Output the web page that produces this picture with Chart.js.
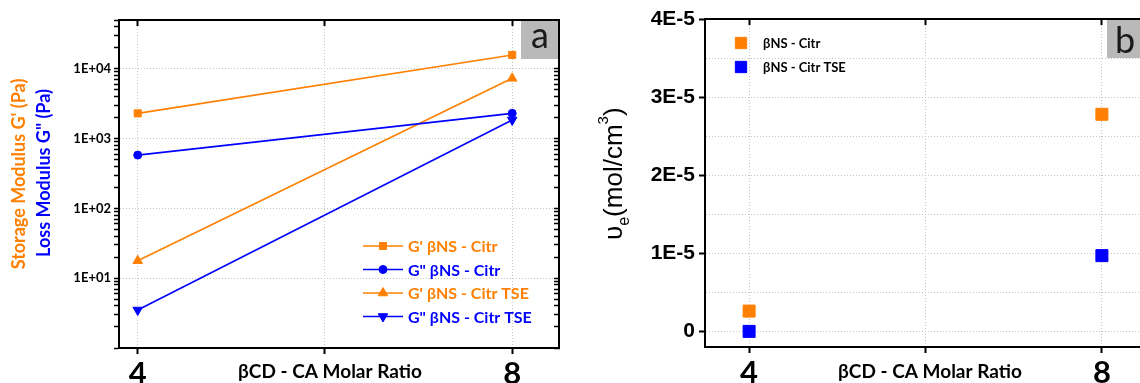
<!DOCTYPE html>
<html>
<head>
<meta charset="utf-8">
<script src="https://cdn.jsdelivr.net/npm/chart.js@4.4.1/dist/chart.umd.min.js"></script>
<style>
  html, body { margin: 0; padding: 0; background: #fff; overflow: hidden; width: 1140px; height: 383px; }
  canvas { position: absolute; top: 0; }
  #chartA { left: 0; }
  #chartB { left: 570px; }
</style>
</head>
<body>
<canvas id="chartA" width="570" height="383"></canvas>
<canvas id="chartB" width="590" height="383"></canvas>
<script>
// values
const ratios = [4, 8];
const gStorageCitr = [2300, 15800];
const gLossCitr = [580, 2300];
const gStorageCitrTSE = [17.8, 7300];
const gLossCitrTSE = [3.5, 1850];
const nuCitr = [2.6e-6, 2.78e-5];
const nuCitrTSE = [0, 9.7e-6];

const xTicks = [4, 6, 8];
const xTickLabels = ['4', '', '8'];
const logDecades = [10, 100, 1000, 10000];
const logDecadeLabels = ['1E+01', '1E+02', '1E+03', '1E+04'];
const nuGrid = [0, 0.5e-5, 1e-5, 1.5e-5, 2e-5, 2.5e-5, 3e-5, 3.5e-5, 4e-5];
const nuTicks = [0, 1e-5, 2e-5, 3e-5, 4e-5];
const nuTickLabels = ['0', '1E-5', '2E-5', '3E-5', '4E-5'];

const ORANGE = '#ff8000';
const BLUE = '#0000ff';
const GRID = '#c4c4c4';
const CAL = 'Lato, "Open Sans", sans-serif';
const ARIAL = '"Liberation Sans", Arial, sans-serif';

// minor ticks of the log axis: 1..9 x 10^n
const logMinor = [];
for (let d = 1; d <= 10000; d *= 10) {
  for (let m = 1; m <= 9; m++) {
    if (m * d <= 50000) logMinor.push(m * d);
  }
}

const pts = (ys) => ratios.map((x, i) => ({ x: x, y: ys[i] }));
const fixSize = (n) => (s) => { if (s.isHorizontal()) s.height = n; else s.width = n; };
const setTicks = (vals) => (s) => { s.ticks = vals.map(v => ({ value: v })); };
const frame = { display: true, color: '#000', width: 2, dash: [1, 2] };

function series(label, ys, color, style, r, rot) {
  return {
    label: label, data: pts(ys),
    borderColor: color, backgroundColor: color, borderWidth: 1.6,
    pointStyle: style, pointRadius: r, pointRotation: rot,
    pointBackgroundColor: color, pointBorderColor: color, pointBorderWidth: 1,
    tension: 0
  };
}

function rotText(ctx, text, x, y, font, color) {
  ctx.save();
  ctx.translate(x, y);
  ctx.rotate(-Math.PI / 2);
  ctx.font = font;
  ctx.fillStyle = color;
  ctx.textAlign = 'center';
  ctx.textBaseline = 'middle';
  ctx.fillText(text, 0, 0);
  ctx.restore();
}

function marker(ctx, style, r, rot, x, y, color) {
  ctx.save();
  ctx.fillStyle = color;
  ctx.strokeStyle = color;
  Chart.helpers.drawPoint(ctx, { pointStyle: style, radius: r, rotation: rot, borderWidth: 1 }, x, y);
  ctx.restore();
}

function labelBox(ctx, area, x0, letter, cx, base) {
  ctx.save();
  ctx.fillStyle = '#b9b9b9';
  ctx.fillRect(x0, area.top + 1, area.right - x0 - 1, 38);
  ctx.fillStyle = '#1a1a1a';
  ctx.font = '36px ' + CAL;
  ctx.textAlign = 'center';
  ctx.textBaseline = 'alphabetic';
  ctx.fillText(letter, cx, base);
  ctx.restore();
}

function xTitle(ctx, cx) {
  ctx.save();
  ctx.font = 'bold 19px ' + CAL;
  ctx.fillStyle = '#000';
  ctx.textAlign = 'center';
  ctx.textBaseline = 'alphabetic';
  ctx.fillText('\u03B2CD - CA Molar Ratio', cx, 378);
  ctx.restore();
}

const panelA = {
  id: 'panelA',
  beforeDatasetsDraw(chart) {
    labelBox(chart.ctx, chart.chartArea, 521, 'a', 540, 48);
  },
  afterDraw(chart) {
    const ctx = chart.ctx;
    rotText(ctx, "Storage Modulus G' (Pa)", 19, 174, 'bold 18px ' + CAL, ORANGE);
    rotText(ctx, 'Loss Modulus G" (Pa)', 44, 173, 'bold 18px ' + CAL, BLUE);
    xTitle(ctx, 330);
    // legend
    chart.data.datasets.forEach((ds, i) => {
      const y = 246 + i * 23.5;
      ctx.save();
      ctx.strokeStyle = ds.borderColor;
      ctx.lineWidth = ds.borderWidth;
      ctx.beginPath();
      ctx.moveTo(363, y);
      ctx.lineTo(403, y);
      ctx.stroke();
      ctx.restore();
      marker(ctx, ds.pointStyle, ds.pointRadius, ds.pointRotation, 383, y, ds.borderColor);
      ctx.save();
      ctx.font = 'bold 16px ' + CAL;
      ctx.fillStyle = ds.borderColor;
      ctx.textBaseline = 'middle';
      ctx.fillText(ds.label, 408, y + 1);
      ctx.restore();
    });
  }
};

const panelB = {
  id: 'panelB',
  beforeDatasetsDraw(chart) {
    labelBox(chart.ctx, chart.chartArea, 537, 'b', 555, 53);
  },
  afterDraw(chart) {
    const ctx = chart.ctx;
    // rotated title with subscript and superscript
    ctx.save();
    ctx.translate(52, 240);
    ctx.rotate(-Math.PI / 2);
    ctx.fillStyle = '#000';
    ctx.textBaseline = 'alphabetic';
    const parts = [['\u03C5', 26, 0], ['e', 16, 7], ['(mol/cm', 26, 0], ['3', 15, -14], [')', 26, 0]];
    let x = 0;
    parts.forEach(p => {
      ctx.font = p[1] + 'px ' + ARIAL;
      ctx.fillText(p[0], x, p[2]);
      x += ctx.measureText(p[0]).width;
    });
    ctx.restore();
    xTitle(ctx, 360);
    chart.data.datasets.forEach((ds, i) => {
      const y = 43 + i * 24;
      marker(ctx, 'rect', 8, 0, 171, y, ds.backgroundColor);
      ctx.save();
      ctx.font = 'bold 13px ' + CAL;
      ctx.fillStyle = '#000';
      ctx.textBaseline = 'middle';
      ctx.fillText(ds.label, 193, y + 1);
      ctx.restore();
    });
  }
};

const xBottom = (min, max, h) => ({
  type: 'linear', position: 'bottom', min: min, max: max,
  afterBuildTicks: setTicks(xTicks), afterFit: fixSize(h),
  grid: { color: GRID, lineWidth: 1, tickColor: '#000', tickLength: 6, tickWidth: 2 },
  border: frame,
  ticks: {
    autoSkip: false, maxRotation: 0, padding: 1, color: '#000',
    font: { family: CAL, weight: 'bold', size: 31 },
    callback: (v) => xTickLabels[xTicks.indexOf(v)] || ''
  }
});

const xTop = (min, max) => ({
  type: 'linear', position: 'top', min: min, max: max,
  afterBuildTicks: setTicks(xTicks), afterFit: fixSize(0),
  grid: { drawOnChartArea: false, tickColor: '#000', tickLength: -6, tickWidth: 2 },
  border: { display: true, color: '#000', width: 2 },
  ticks: { display: false }
});

new Chart(document.getElementById('chartA'), {
  type: 'line',
  data: {
    datasets: [
      series("G' \u03B2NS - Citr", gStorageCitr, ORANGE, 'rect', 5, 0),
      series('G" \u03B2NS - Citr', gLossCitr, BLUE, 'circle', 4, 0),
      series("G' \u03B2NS - Citr TSE", gStorageCitrTSE, ORANGE, 'triangle', 5.5, 0),
      series('G" \u03B2NS - Citr TSE', gLossCitrTSE, BLUE, 'triangle', 5.5, 180)
    ]
  },
  options: {
    responsive: false, animation: false, devicePixelRatio: 1,
    layout: { padding: { left: 0, top: 20, right: 11, bottom: 0 } },
    plugins: { legend: { display: false }, tooltip: { enabled: false } },
    scales: {
      x: xBottom(3.8, 8.5, 35),
      x2: xTop(3.8, 8.5),
      y: {
        type: 'logarithmic', position: 'left', min: 1, max: 50000,
        afterBuildTicks: setTicks(logMinor), afterFit: fixSize(119),
        grid: {
          color: (c) => (c.tick && logDecades.includes(c.tick.value)) ? GRID : 'rgba(0,0,0,0)',
          tickColor: '#000', tickLength: 5, tickWidth: 1.5
        },
        border: frame,
        ticks: {
          autoSkip: false, padding: 3, color: '#000',
          font: { family: CAL, weight: 'bold', size: 13 },
          callback: (v) => logDecadeLabels[logDecades.indexOf(v)] || ''
        }
      },
      y2: {
        type: 'logarithmic', position: 'right', min: 1, max: 50000,
        afterBuildTicks: setTicks(logMinor), afterFit: fixSize(0),
        grid: { drawOnChartArea: false, tickColor: '#000', tickLength: -5, tickWidth: 1.5 },
        border: { display: true, color: '#000', width: 2 },
        ticks: { display: false }
      }
    }
  },
  plugins: [panelA]
});

const scatterSet = (label, ys, color) => ({
  label: label, data: pts(ys), showLine: false,
  pointStyle: 'rect', pointRadius: 8.5,
  backgroundColor: color, borderColor: color,
  pointBackgroundColor: color, pointBorderColor: color, pointBorderWidth: 1
});

const majorOnly = (c) => (c.tick && nuTicks.includes(c.tick.value)) ? '#000' : 'rgba(0,0,0,0)';

new Chart(document.getElementById('chartB'), {
  type: 'scatter',
  data: {
    datasets: [
      scatterSet('\u03B2NS - Citr', nuCitr, ORANGE),
      scatterSet('\u03B2NS - Citr TSE', nuCitrTSE, BLUE)
    ]
  },
  options: {
    responsive: false, animation: false, devicePixelRatio: 1,
    layout: { padding: { left: 0, top: 19, right: 14, bottom: 0 } },
    plugins: { legend: { display: false }, tooltip: { enabled: false } },
    scales: {
      x: xBottom(3.5, 8.5, 36),
      x2: xTop(3.5, 8.5),
      y: {
        type: 'linear', position: 'left', min: -2e-6, max: 4e-5,
        afterBuildTicks: setTicks(nuGrid), afterFit: fixSize(135),
        grid: { color: GRID, lineWidth: 1, tickColor: majorOnly, tickLength: 6, tickWidth: 2 },
        border: frame,
        ticks: {
          autoSkip: false, padding: 4, color: '#000',
          font: { family: ARIAL, weight: 'bold', size: 21 },
          callback: (v) => nuTickLabels[nuTicks.indexOf(v)] || ''
        }
      },
      y2: {
        type: 'linear', position: 'right', min: -2e-6, max: 4e-5,
        afterBuildTicks: setTicks(nuGrid), afterFit: fixSize(0),
        grid: { drawOnChartArea: false, tickColor: majorOnly, tickLength: -6, tickWidth: 2 },
        border: { display: true, color: '#000', width: 2 },
        ticks: { display: false }
      }
    }
  },
  plugins: [panelB]
});
</script>
</body>
</html>
